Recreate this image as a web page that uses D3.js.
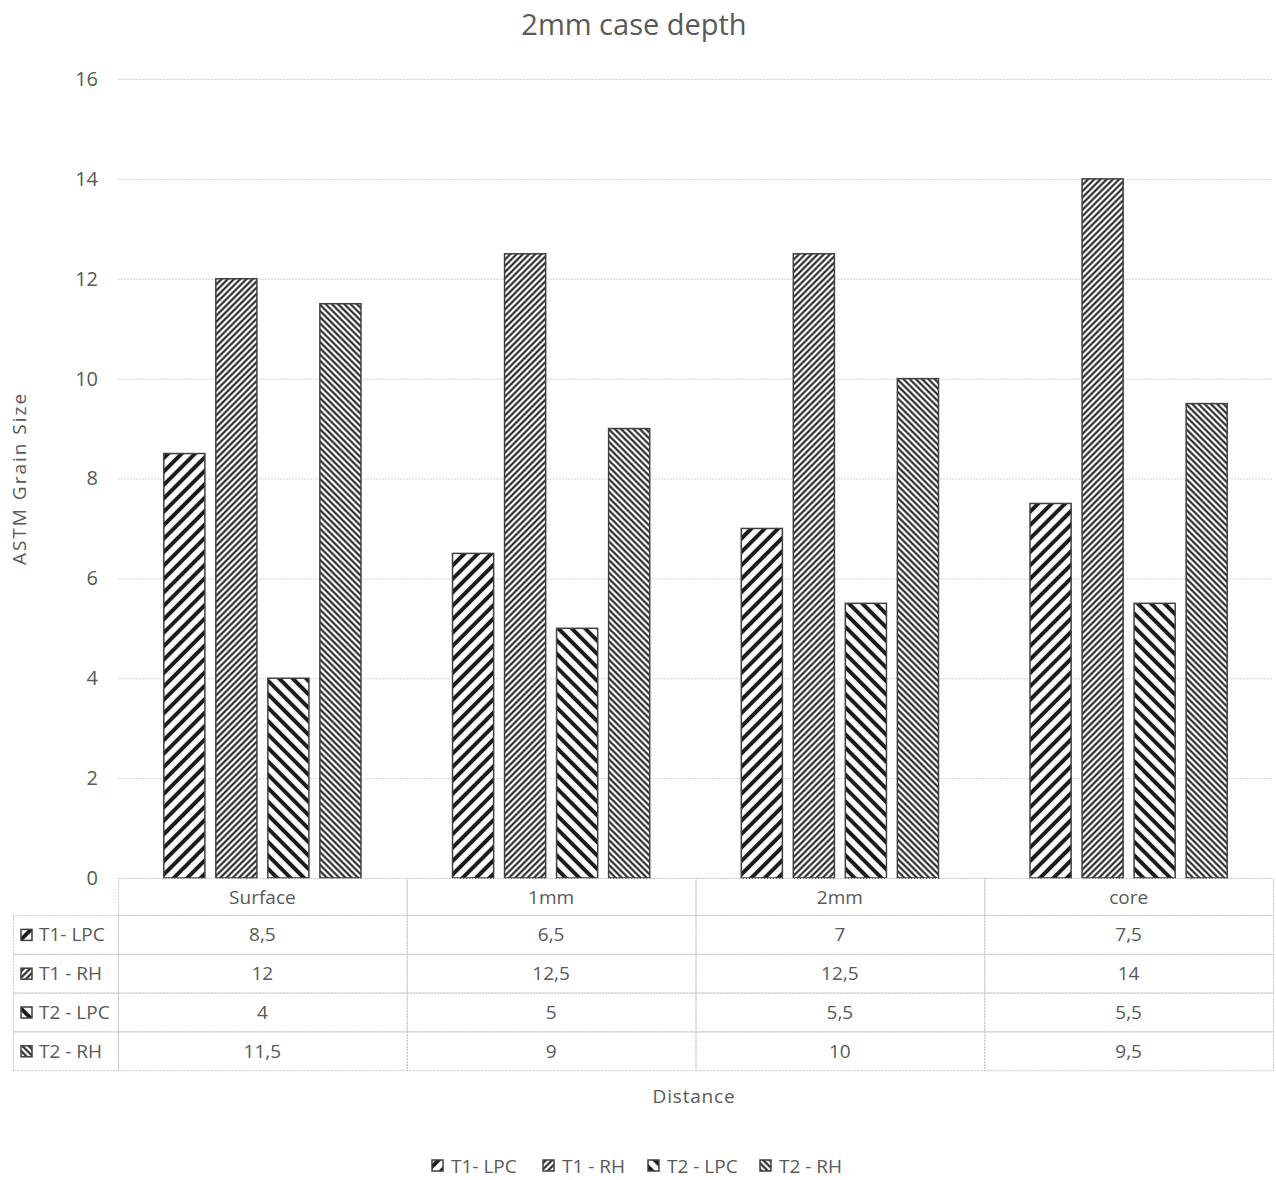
<!DOCTYPE html>
<html>
<head>
<meta charset="utf-8">
<script src="https://cdn.jsdelivr.net/npm/d3@7"></script>
<style>
  html, body { margin: 0; padding: 0; background: #fff; }
  svg text { font-family: "Open Sans", "Noto Sans", sans-serif; fill: #595959; }
</style>
</head>
<body>
<svg id="chart" width="1276" height="1180"></svg>
<script>
// Grain size by distance from surface, 2mm case depth
const categories = ["Surface", "1mm", "2mm", "core"];
const seriesNames = ["T1- LPC", "T1 - RH", "T2 - LPC", "T2 - RH"];
const t1Lpc = [8.5, 6.5, 7, 7.5];
const t1Rh = [12, 12.5, 12.5, 14];
const t2Lpc = [4, 5, 5.5, 5.5];
const t2Rh = [11.5, 9, 10, 9.5];
const yTicks = [0, 2, 4, 6, 8, 10, 12, 14, 16];

const seriesValues = [t1Lpc, t1Rh, t2Lpc, t2Rh];

// hatch styles per series: angle, spacing, stroke width
const hatch = [
  { id: "h0", angle: 45, size: 9.5, stroke: 4 },
  { id: "h1", angle: 45, size: 4.4, stroke: 2 },
  { id: "h2", angle: -45, size: 9.5, stroke: 4 },
  { id: "h3", angle: -45, size: 4.4, stroke: 2 }
];

const svg = d3.select("#chart");
const ink = "#404040";
const gridColor = "#d4d4d4";

const plot = { left: 118, right: 1273, top: 79, bottom: 878 };

const comma = d3.formatLocale({ decimal: ",", thousands: ".", grouping: [3], currency: ["", ""] });
const fmt = v => comma.format("~g")(v);

// patterns
const defs = svg.append("defs");
hatch.forEach(h => {
  const p = defs.append("pattern")
    .attr("id", h.id)
    .attr("patternUnits", "userSpaceOnUse")
    .attr("width", h.size)
    .attr("height", h.size)
    .attr("patternTransform", `rotate(${h.angle})`);
  p.append("rect").attr("width", h.size).attr("height", h.size).attr("fill", "#fff");
  p.append("line")
    .attr("x1", h.size / 2).attr("x2", h.size / 2)
    .attr("y1", 0).attr("y2", h.size)
    .attr("stroke", "#1a1a1a")
    .attr("stroke-width", h.stroke);
});

const x = d3.scaleBand().domain(categories).range([plot.left, plot.right]).paddingInner(0).paddingOuter(0);
const x1 = d3.scaleBand().domain(d3.range(seriesNames.length))
  .range([0, x.bandwidth()]).paddingInner(0.21).paddingOuter(0.88);
const y = d3.scaleLinear().domain([0, 16]).range([plot.bottom, plot.top]);

// title
svg.append("text")
  .attr("x", 634).attr("y", 35)
  .attr("text-anchor", "middle")
  .attr("font-size", 29)
  .text("2mm case depth");

// gridlines
svg.append("g").selectAll("line").data(yTicks.filter(d => d > 0)).join("line")
  .attr("x1", plot.left).attr("x2", plot.right)
  .attr("y1", d => y(d) + 0.5).attr("y2", d => y(d) + 0.5)
  .attr("stroke", gridColor).attr("stroke-width", 1)
  .attr("stroke-dasharray", "2,1");

// y axis labels
const yAxis = d3.axisLeft(y).tickValues(yTicks).tickSize(0).tickPadding(0).tickFormat(d3.format("d"));
const gy = svg.append("g").attr("transform", `translate(${plot.left - 20},0)`).call(yAxis);
gy.select(".domain").remove();
gy.selectAll("text").attr("font-size", 20).attr("fill", "#595959")
  .style("font-family", "'Open Sans', sans-serif");

svg.append("text")
  .attr("transform", `translate(26,${(plot.top + plot.bottom) / 2}) rotate(-90)`)
  .attr("text-anchor", "middle")
  .attr("font-size", 19)
  .attr("letter-spacing", 2)
  .text("ASTM Grain Size");

// bars
const groups = svg.append("g").selectAll("g").data(categories).join("g")
  .attr("transform", c => `translate(${x(c)},0)`);
groups.selectAll("rect")
  .data((c, ci) => seriesValues.map((vals, si) => ({ si, v: vals[ci] })))
  .join("rect")
  .attr("x", d => x1(d.si))
  .attr("width", x1.bandwidth())
  .attr("y", d => y(d.v))
  .attr("height", d => y(0) - y(d.v))
  .attr("fill", d => `url(#${hatch[d.si].id})`)
  .attr("stroke", ink)
  .attr("stroke-width", 1.5);

// data table
const rowH = 38.8;
const headerH = 37;
const tableLeft = 13;
const tableFont = 19;
const tbl = svg.append("g");
const applyBorder = sel => sel.attr("stroke", "#c8c8c8").attr("stroke-width", 1)
  .attr("stroke-dasharray", "2,1").attr("fill", "none");

// header row cells
categories.forEach(c => {
  applyBorder(tbl.append("rect")
    .attr("x", x(c) + 0.5).attr("y", plot.bottom + 0.5)
    .attr("width", x.bandwidth()).attr("height", headerH));
  tbl.append("text")
    .attr("x", x(c) + x.bandwidth() / 2).attr("y", plot.bottom + headerH / 2 + 7)
    .attr("text-anchor", "middle").attr("font-size", tableFont)
    .text(c);
});

seriesNames.forEach((name, si) => {
  const top = plot.bottom + headerH + si * rowH;
  applyBorder(tbl.append("rect")
    .attr("x", tableLeft + 0.5).attr("y", top + 0.5)
    .attr("width", plot.left - tableLeft).attr("height", rowH));
  // swatch
  tbl.append("rect")
    .attr("x", 21).attr("y", top + rowH / 2 - 5)
    .attr("width", 11).attr("height", 11)
    .attr("fill", `url(#${hatch[si].id})`)
    .attr("stroke", ink).attr("stroke-width", 1.5);
  tbl.append("text")
    .attr("x", 39).attr("y", top + rowH / 2 + 7)
    .attr("font-size", tableFont)
    .text(name);
  categories.forEach((c, ci) => {
    applyBorder(tbl.append("rect")
      .attr("x", x(c) + 0.5).attr("y", top + 0.5)
      .attr("width", x.bandwidth()).attr("height", rowH));
    tbl.append("text")
      .attr("x", x(c) + x.bandwidth() / 2).attr("y", top + rowH / 2 + 7)
      .attr("text-anchor", "middle").attr("font-size", tableFont)
      .text(fmt(seriesValues[si][ci]));
  });
});

// x axis title
svg.append("text")
  .attr("x", 694).attr("y", 1103)
  .attr("text-anchor", "middle").attr("font-size", 19)
  .attr("letter-spacing", 0.8)
  .text("Distance");

// legend
const legendX = [432, 543, 648, 760];
const lg = svg.append("g").selectAll("g").data(seriesNames).join("g")
  .attr("transform", (d, i) => `translate(${legendX[i]},1160)`);
lg.append("rect")
  .attr("x", 0).attr("y", 0).attr("width", 11).attr("height", 11)
  .attr("fill", (d, i) => `url(#${hatch[i].id})`)
  .attr("stroke", ink).attr("stroke-width", 1.5);
lg.append("text")
  .attr("x", 19).attr("y", 13)
  .attr("font-size", 19)
  .text(d => d);
</script>
</body>
</html>
